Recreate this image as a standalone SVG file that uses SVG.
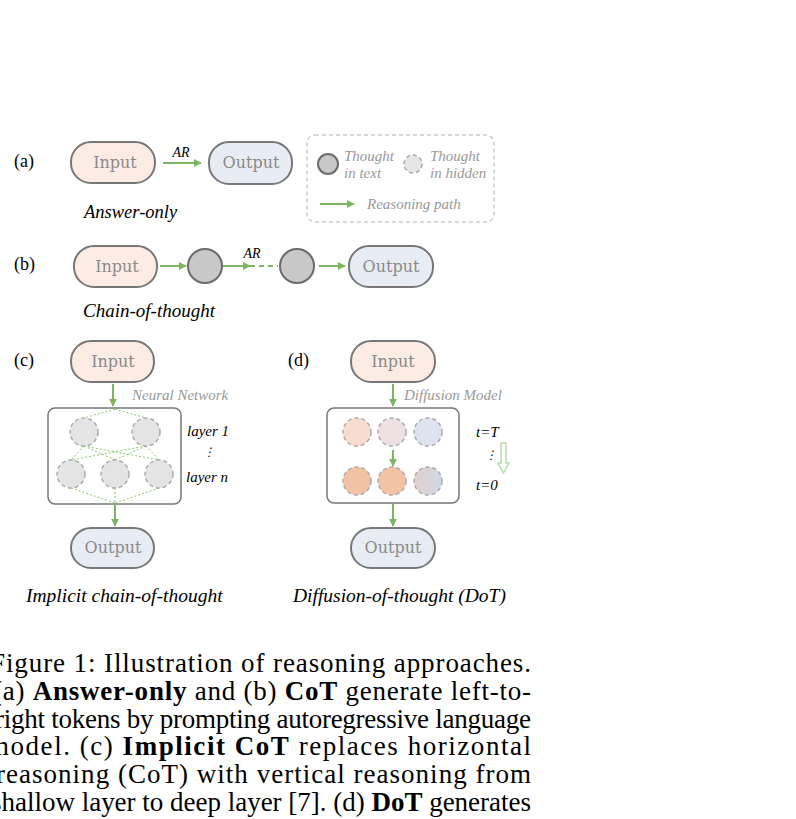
<svg xmlns="http://www.w3.org/2000/svg" width="796" height="819" viewBox="0 0 796 819">
<defs>
<marker id="ah" viewBox="0 0 10 10" refX="9" refY="5" markerWidth="4" markerHeight="4" orient="auto"><path d="M0,0L10,5L0,10z" fill="#7cb662"/></marker>
<linearGradient id="g3" x1="0" x2="1"><stop offset="0" stop-color="#e2cfcb"/><stop offset="1" stop-color="#cfd8e8"/></linearGradient>
</defs>
<style>
.in{fill:#fcece3;stroke:#777;stroke-width:2}
.out{fill:#e8ecf5;stroke:#777;stroke-width:2}
.pt{font-family:"DejaVu Serif",serif;font-size:16px;fill:#8a8a8a;text-anchor:middle}
.lbl{font-family:"Liberation Serif",serif;font-size:18px;fill:#000}
.it{font-family:"Liberation Serif",serif;font-style:italic;fill:#000}
.git{font-family:"Liberation Serif",serif;font-style:italic;fill:#999;font-size:15px}
.arr{stroke:#7cb662;stroke-width:2;fill:none;marker-end:url(#ah)}
.tc{fill:#c8c8c8;stroke:#6b6b6b;stroke-width:2}
.hc{stroke:#aaa;stroke-width:1.5;stroke-dasharray:4 3}
.box{fill:#fff;stroke:#777;stroke-width:1.5}
.dl{stroke:#8cc66e;stroke-width:1;stroke-dasharray:2 2;fill:none}
.cap{font-family:"Liberation Serif",serif;font-size:27px;fill:#000}
</style>

<g id="a">
<text class="lbl" x="14" y="167">(a)</text>
<g id="a-input"><rect class="in" x="71" y="142" width="84" height="41" rx="20"/><text class="pt" x="115" y="168">Input</text></g>
<g id="a-output"><rect class="out" x="209" y="142" width="83" height="42" rx="20"/><text class="pt" x="251" y="168">Output</text></g>
<text class="it" x="181" y="157" font-size="14" text-anchor="middle">AR</text>
<text class="it" x="84" y="218" font-size="18.5">Answer-only</text>
</g>

<g id="legend">
<rect x="307" y="135" width="187" height="87" rx="8" fill="none" stroke="#ccc" stroke-width="1.5" stroke-dasharray="4 3"/>
<circle class="tc" cx="328" cy="164" r="10"/>
<text class="git" x="344" y="161">Thought</text><text class="git" x="344" y="178">in text</text>
<circle class="hc" cx="413" cy="164" r="9" fill="#e6e6e6"/>
<text class="git" x="430" y="161">Thought</text><text class="git" x="430" y="178">in hidden</text>
<text class="git" x="367" y="209">Reasoning path</text>
</g>

<g id="b">
<text class="lbl" x="14" y="270">(b)</text>
<g id="b-input"><rect class="in" x="74" y="246" width="83" height="41" rx="20"/><text class="pt" x="117" y="272">Input</text></g>
<g id="b-t1"><circle class="tc" cx="205" cy="266" r="17"/></g>
<g id="b-t2"><circle class="tc" cx="297" cy="266" r="17"/></g>
<g id="b-output"><rect class="out" x="349" y="246" width="84" height="41" rx="20"/><text class="pt" x="391" y="272">Output</text></g>
<text class="it" x="252" y="258" font-size="14" text-anchor="middle">AR</text>
<text class="it" x="83" y="317" font-size="19">Chain-of-thought</text>
</g>

<g id="c">
<text class="lbl" x="14" y="366">(c)</text>
<g id="c-input"><rect class="in" x="71" y="341" width="83" height="41" rx="20"/><text class="pt" x="113" y="367">Input</text></g>
<text class="git" x="132" y="400" font-size="14.5">Neural Network</text>
<g id="c-nn">
<rect class="box" x="48" y="408" width="133" height="96" rx="7"/>
<path class="dl" d="M115,409L84,418M115,409L146,418M84,446L159,460M84,446L71,460M146,446L71,460M146,446L159,460M84,446L115,460M146,446L115,460M71,488L115,503M115,488L115,503M159,488L115,503"/>
<circle class="hc" cx="84" cy="432" r="14" fill="#e4e4e4"/>
<circle class="hc" cx="146" cy="432" r="14" fill="#e4e4e4"/>
<circle class="hc" cx="71" cy="474" r="14" fill="#e4e4e4"/>
<circle class="hc" cx="115" cy="474" r="14" fill="#e4e4e4"/>
<circle class="hc" cx="159" cy="474" r="14" fill="#e4e4e4"/>
</g>
<text class="it" x="187" y="436" font-size="15">layer 1</text>
<text class="it" x="203" y="456" font-size="12">⋮</text>
<text class="it" x="186" y="482" font-size="15">layer n</text>
<g id="c-output"><rect class="out" x="71" y="528" width="83" height="40" rx="20"/><text class="pt" x="113" y="553">Output</text></g>
<text class="it" x="26" y="602" font-size="19.5">Implicit chain-of-thought</text>
</g>

<g id="d">
<text class="lbl" x="288" y="366">(d)</text>
<g id="d-input"><rect class="in" x="351" y="341" width="84" height="41" rx="20"/><text class="pt" x="393" y="367">Input</text></g>
<text class="git" x="404" y="400" font-size="14.5">Diffusion Model</text>
<g id="d-model">
<rect class="box" x="327" y="408" width="132" height="95" rx="7"/>
<circle class="hc" cx="357" cy="432" r="14" fill="#f6ddd0"/>
<circle class="hc" cx="392" cy="432" r="14" fill="#eee0e3"/>
<circle class="hc" cx="428" cy="432" r="14" fill="#dde3f0"/>
<circle class="hc" cx="357" cy="481" r="14" fill="#f2c2a4"/>
<circle class="hc" cx="392" cy="481" r="14" fill="#f3c3a6"/>
<circle class="hc" cx="428" cy="481" r="14" fill="url(#g3)"/>
</g>
<text class="it" x="476" y="437" font-size="15">t=T</text>
<text class="it" x="485" y="459" font-size="12">⋮</text>
<text class="it" x="476" y="490" font-size="15">t=0</text>
<path d="M501,443h5v20h3l-5.5,10l-5.5,-10h3z" fill="none" stroke="#b9dca8" stroke-width="1.5"/>
<g id="d-output"><rect class="out" x="351" y="528" width="84" height="40" rx="20"/><text class="pt" x="393" y="553">Output</text></g>
<text class="it" x="293" y="602" font-size="19.5">Diffusion-of-thought (DoT)</text>
</g>

<g id="connectors">
<line class="arr" x1="163" y1="163" x2="201" y2="163"/>
<line class="arr" x1="320" y1="204" x2="354" y2="204"/>
<line class="arr" x1="160" y1="266" x2="186" y2="266"/>
<line class="arr" x1="223" y1="266" x2="250" y2="266"/>
<line x1="250" y1="266" x2="278" y2="266" stroke="#7cb662" stroke-width="2" stroke-dasharray="5 4"/>
<line class="arr" x1="319" y1="266" x2="345" y2="266"/>
<line class="arr" x1="113" y1="384" x2="113" y2="406"/>
<line class="arr" x1="115" y1="504" x2="115" y2="526"/>
<line class="arr" x1="393" y1="384" x2="393" y2="406"/>
<line class="arr" x1="393" y1="450" x2="393" y2="466"/>
<line class="arr" x1="393" y1="503" x2="393" y2="526"/>
</g>

<g id="caption">
<text class="cap" x="-10" y="672" textLength="541" lengthAdjust="spacing">Figure 1:  Illustration of reasoning approaches.</text>
<text class="cap" x="-7" y="700" textLength="538" lengthAdjust="spacing">(a) <tspan font-weight="bold">Answer-only</tspan> and (b) <tspan font-weight="bold">CoT</tspan> generate left-to-</text>
<text class="cap" x="-5" y="728" textLength="536" lengthAdjust="spacing">right tokens by prompting autoregressive language</text>
<text class="cap" x="-12" y="755" textLength="543" lengthAdjust="spacing">model.  (c) <tspan font-weight="bold">Implicit CoT</tspan> replaces horizontal</text>
<text class="cap" x="-4" y="783" textLength="535" lengthAdjust="spacing">reasoning (CoT) with vertical reasoning from</text>
<text class="cap" x="-9" y="811" textLength="540" lengthAdjust="spacing">shallow layer to deep layer [7].  (d) <tspan font-weight="bold">DoT</tspan> generates</text>
</g>
</svg>
